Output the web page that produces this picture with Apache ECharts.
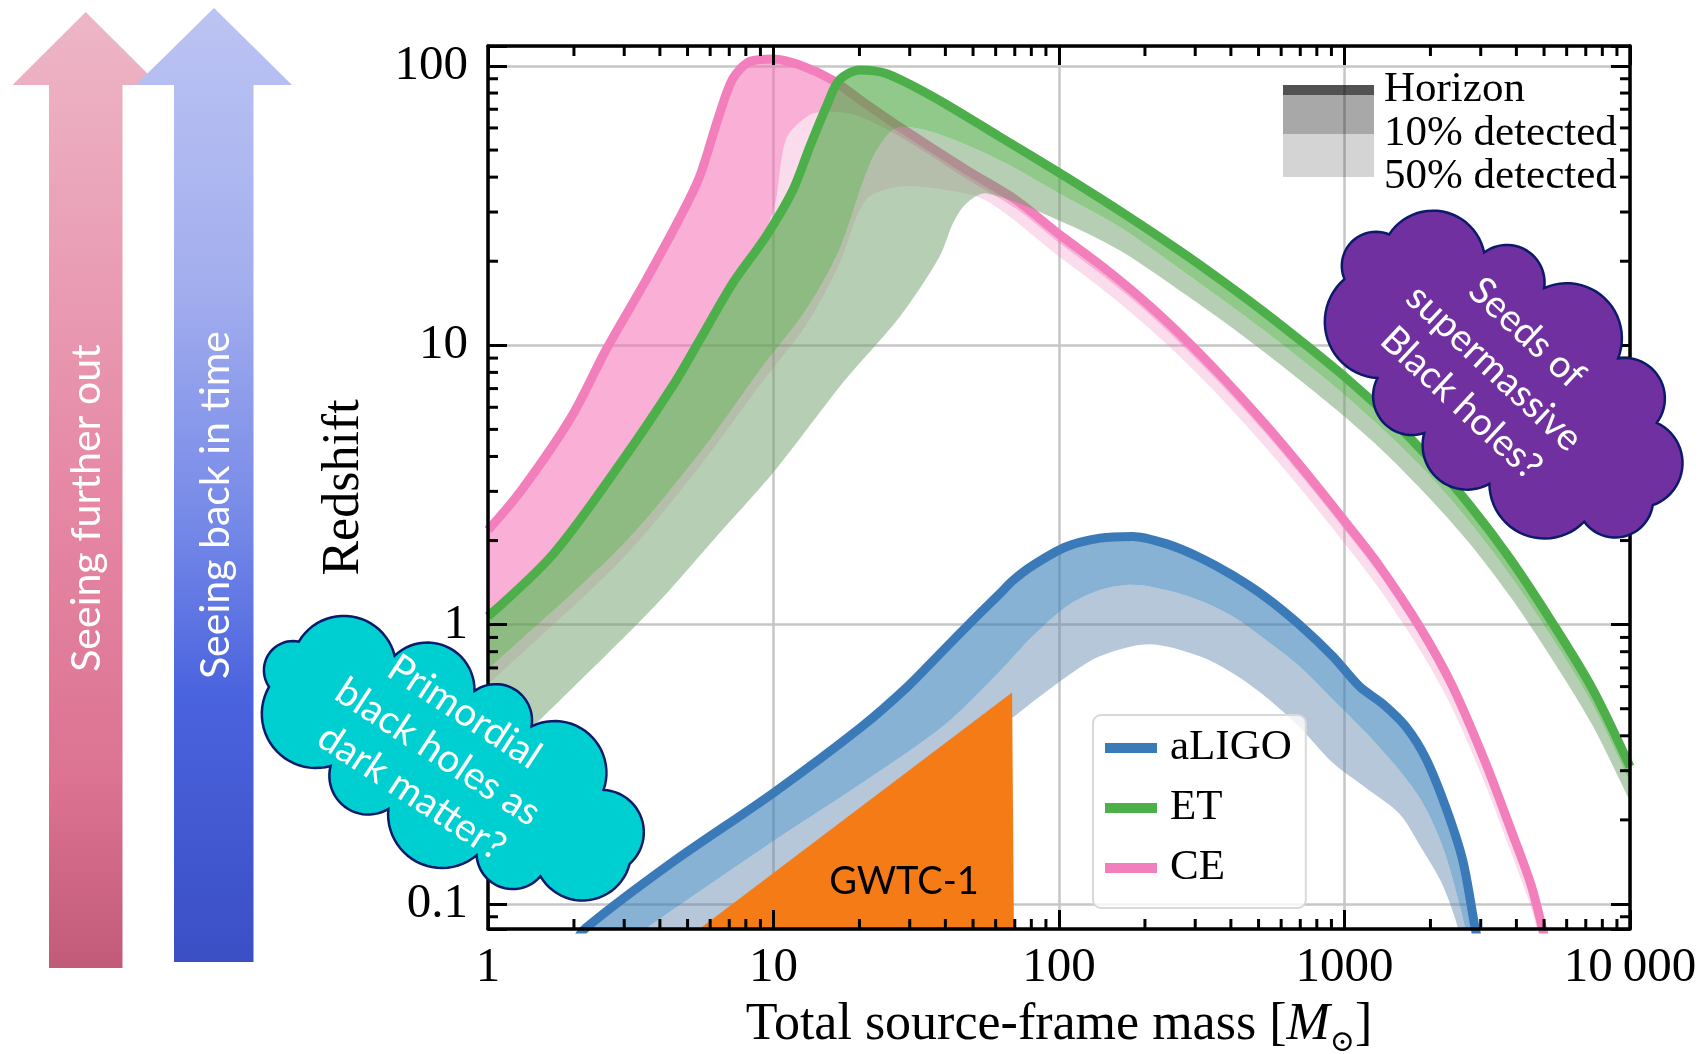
<!DOCTYPE html>
<html><head><meta charset="utf-8">
<script src="https://cdn.jsdelivr.net/npm/echarts/dist/echarts.min.js"></script>
<style>html,body{margin:0;padding:0;background:#fff}#c{width:1704px;height:1054px}</style>
</head><body><div id="c"></div>
<script>
// ---------- axis ticks ----------
const xTicks = [1, 10, 100, 1000, 10000];
const xTickLabels = ['1', '10', '100', '1000', '10\u2009000'];
const yTicks = [0.1, 1, 10, 100];
const yTickLabels = ['0.1', '1', '10', '100'];
const xMinorTicks = [2,3,4,5,6,7,8,9,20,30,40,50,60,70,80,90,200,300,400,500,600,700,800,900,2000,3000,4000,5000,6000,7000,8000,9000];
const yMinorTicks = [0.09,0.2,0.3,0.4,0.5,0.6,0.7,0.8,0.9,2,3,4,5,6,7,8,9,20,30,40,50,60,70,80,90];

// ---------- CE ----------
const ceHorizonMass = [1,1.3,1.95,2.6,3.54,4.67,5.5,6.4,7.2,8.3,10,12.3,16.1,20,27.6,47.3,70.8,100,139,194,270,376,523,728,1014,1320,1837,2393,3120,3800,4490,4960,5100];
const ceHorizonZ    = [2.18,3.0,5.5,9.7,16.8,28.3,40,65,90,104,106,101,89,76,60.6,42.5,33.1,25,19.46,14.72,10.78,7.64,5.27,3.53,2.31,1.63,0.98,0.60,0.32,0.188,0.118,0.08,0.07];
const ce10Mass = [1,1.7,2.92,4.49,5.5,7.2,8.8,9.6,10.2,11.1,13.4,16.1,20,27.6,47.3,70.8,100,139,194,270,376,523,728,1014,1320,1837,2393,3120,3800,4490,4850,5000];
const ce10Z    = [1.04,1.75,3.69,7.08,10.1,16.2,21.5,27,33,55,66.8,68.6,66,56,39.5,30.8,23.3,18.1,13.7,10.0,7.1,4.9,3.28,2.15,1.52,0.91,0.558,0.298,0.175,0.11,0.08,0.07];
const ce50Mass = [1,2.92,5.5,9,13,17,21,27.6,40,55.6,100,139,194,270,376,523,728,1014,1320,1837,2393,3120,3800,4490,4750,4900];
const ce50Z    = [0.61,1.7,3.67,7.25,11.8,19.5,33,37,36,33,20.8,16.15,12.2,8.95,6.34,4.37,2.93,1.92,1.35,0.813,0.498,0.266,0.156,0.098,0.079,0.07];

// ---------- ET ----------
const etHorizonMass = [1,1.7,2.92,4.49,5.5,7.2,9.4,11.7,13.4,15.3,17,20,24.8,36.2,62,100,163,270,376,523,728,1014,1410,1963,2735,3805,5300,7380,10000];
const etHorizonZ    = [1.07,1.8,3.8,7.3,10.4,16.7,24.5,36,51.4,71.4,89,96.8,94,77.6,55.8,41.5,30.3,21.5,16.9,13.15,10.08,7.63,5.63,3.98,2.69,1.72,1.03,0.59,0.31];
const et10Mass = [1,2.92,5.5,9,13,17,20.5,23,27,36,62,100,163,270,376,523,728,1014,1410,1963,2735,3805,5300,7380,10000];
const et10Z    = [0.69,1.9,4.1,8.2,13.4,22,38,50,60,58,46,35,26.5,18.5,14.5,11.3,8.67,6.56,4.84,3.46,2.34,1.50,0.906,0.519,0.273];
const et50Mass = [1,1.7,3.82,6,10.2,17.6,27.6,38.1,42.5,47.3,55.6,100,163,270,376,523,728,1014,1410,1963,2735,3805,5300,7380,10000];
const et50Z    = [0.30,0.51,1.16,1.95,3.6,7.4,12.6,20.7,27.3,32.2,35,28,21.9,15.5,12.2,9.47,7.26,5.49,4.05,2.87,1.96,1.26,0.76,0.437,0.233];

// ---------- aLIGO ----------
const ligoHorizonMass = [2.0,2.2,4.38,10,20.3,29.5,37.5,51,62,69,81,106,139,181,237,311,406,532,695,910,1130,1362,1644,1932,2270,2596,2850,3000];
const ligoHorizonZ    = [0.072,0.082,0.14,0.25,0.43,0.60,0.77,1.06,1.29,1.44,1.63,1.9,2.04,2.07,1.95,1.74,1.5,1.25,1.0,0.77,0.6,0.52,0.43,0.33,0.22,0.143,0.085,0.065];
const ligo10Mass = [3.2,3.54,10,20.3,40,62,81,106,139,181,237,311,406,532,695,910,1190,1560,1880,2210,2525,2700];
const ligo10Z    = [0.074,0.081,0.168,0.27,0.44,0.68,0.91,1.16,1.33,1.39,1.33,1.22,1.07,0.88,0.71,0.54,0.41,0.30,0.23,0.16,0.10,0.075];
const ligo50Mass = [5.0,5.6,27.6,62,81,106,139,207,311,406,532,695,910,1190,1560,1850,2180,2430,2550];
const ligo50Z    = [0.072,0.081,0.256,0.43,0.53,0.65,0.77,0.85,0.77,0.67,0.55,0.43,0.32,0.26,0.21,0.16,0.12,0.09,0.075];

// ---------- GWTC-1 region ----------
const gwtcMass = [5.5, 68.5, 69.5];
const gwtcZ    = [0.0814, 0.571, 0.0814];

const X_MIN = 1, X_MAX = 10000, Y_MIN = 0.08136, Y_MAX = 117.9;
const SERIF = 'Liberation Serif';
const SANS = 'Lato';

function zip(a, b) { return a.map((v, i) => [v, b[i]]); }
function labelFor(v, vals, labels) {
  for (let i = 0; i < vals.length; i++) {
    if (Math.abs(Math.log10(v) - Math.log10(vals[i])) < 1e-6) return labels[i];
  }
  return '';
}
function padEnd(p, q, len) {
  const dx = p[0] - q[0], dy = p[1] - q[1];
  const d = Math.hypot(dx, dy) || 1;
  return [p[0] + dx / d * len, p[1] + dy / d * len];
}
function clipOf(cs) { return {type: 'rect', shape: {x: cs.x, y: cs.y, width: cs.width, height: cs.height}}; }

function bandSeries(id, upM, upZ, loM, loZ, color, z) {
  return {
    type: 'custom', name: id, xAxisIndex: 0, yAxisIndex: 0, z: z, silent: true,
    data: [[upM[0], upZ[0]]],
    renderItem: function (params, api) {
      if (params.dataIndex !== 0) return;
      const U = upM.map((m, i) => api.coord([m, upZ[i]]));
      const L = loM.map((m, i) => api.coord([m, loZ[i]]));
      const pts = [padEnd(U[0], U[1], 60)].concat(U);
      pts.push(padEnd(U[U.length - 1], U[U.length - 2], 60));
      pts.push(padEnd(L[L.length - 1], L[L.length - 2], 60));
      for (let i = L.length - 1; i >= 0; i--) pts.push(L[i]);
      pts.push(padEnd(L[0], L[1], 60));
      return {
        type: 'polygon', shape: {points: pts, smooth: 0.3},
        style: {fill: color}, clipPath: clipOf(params.coordSys)
      };
    }
  };
}
function lineSeries(name, m, zv, color, z) {
  return {
    type: 'line', name: name, xAxisIndex: 0, yAxisIndex: 0, z: z, silent: true,
    data: zip(m, zv), showSymbol: false, symbol: 'none', smooth: 0.3, clip: true,
    lineStyle: {color: color, width: 9}, itemStyle: {color: color}
  };
}

const CE_COLOR = '#f27fbb', ET_COLOR = '#4caf49', LIGO_COLOR = '#3a7ab8';

const series = [
  bandSeries('ceLight', ce10Mass, ce10Z, ce50Mass, ce50Z, 'rgba(240,130,185,0.28)', 2),
  bandSeries('ceDark', ceHorizonMass, ceHorizonZ, ce10Mass, ce10Z, 'rgba(245,110,180,0.55)', 3),
  lineSeries('CE', ceHorizonMass, ceHorizonZ, CE_COLOR, 4),
  bandSeries('etLight', et10Mass, et10Z, et50Mass, et50Z, 'rgba(110,160,105,0.5)', 5),
  bandSeries('etDark', etHorizonMass, etHorizonZ, et10Mass, et10Z, 'rgba(70,165,60,0.6)', 6),
  lineSeries('ET', etHorizonMass, etHorizonZ, ET_COLOR, 7),
  bandSeries('ligoLight', ligo10Mass, ligo10Z, ligo50Mass, ligo50Z, 'rgba(90,130,170,0.45)', 8),
  bandSeries('ligoDark', ligoHorizonMass, ligoHorizonZ, ligo10Mass, ligo10Z, 'rgba(55,126,184,0.6)', 9),
  lineSeries('aLIGO', ligoHorizonMass, ligoHorizonZ, LIGO_COLOR, 10),
  {
    type: 'custom', name: 'GWTC-1', xAxisIndex: 0, yAxisIndex: 0, z: 20, silent: true,
    data: [[gwtcMass[0], gwtcZ[0]]],
    renderItem: function (params, api) {
      if (params.dataIndex !== 0) return;
      const pts = gwtcMass.map((m, i) => api.coord([m, gwtcZ[i]]));
      return {type: 'polygon', shape: {points: pts}, style: {fill: '#f47b16'}};
    }
  },
  {
    type: 'custom', name: 'minorTicks', xAxisIndex: 0, yAxisIndex: 0, z: 25, silent: true,
    data: [[1, 1]],
    renderItem: function (params, api) {
      if (params.dataIndex !== 0) return;
      const cs = params.coordSys;
      const Lx = cs.x, T = cs.y, R = cs.x + cs.width, B = cs.y + cs.height;
      const ch = [];
      const len = 10;
      xMinorTicks.forEach(v => {
        const px = api.coord([v, 1])[0];
        ch.push({type: 'line', shape: {x1: px, y1: B, x2: px, y2: B - len}, style: {stroke: '#000', lineWidth: 3}});
        ch.push({type: 'line', shape: {x1: px, y1: T, x2: px, y2: T + len}, style: {stroke: '#000', lineWidth: 3}});
      });
      yMinorTicks.forEach(v => {
        const py = api.coord([1, v])[1];
        ch.push({type: 'line', shape: {x1: Lx, y1: py, x2: Lx + len, y2: py}, style: {stroke: '#000', lineWidth: 3}});
        ch.push({type: 'line', shape: {x1: R, y1: py, x2: R - len, y2: py}, style: {stroke: '#000', lineWidth: 3}});
      });
      return {type: 'group', children: ch};
    }
  }
];

const axisLineStyle = {show: true, onZero: false, lineStyle: {color: '#000', width: 3.5}};
const majorTick = {show: true, inside: true, length: 19, lineStyle: {color: '#000', width: 3}};

const xAxes = [
  {type: 'log', logBase: 10, min: X_MIN, max: X_MAX, position: 'bottom', z: 22,
   axisLine: axisLineStyle, axisTick: majorTick,
   axisLabel: {margin: 15, fontSize: 49, fontFamily: SERIF, color: '#000',
               formatter: v => labelFor(v, xTicks, xTickLabels)},
   splitLine: {show: false},
   name: '{a|Total source-frame mass [}{m|M}{s|\u2299}{a|]}',
   nameLocation: 'middle', nameGap: 70,
   nameTextStyle: {fontFamily: SERIF, fontSize: 52, color: '#000',
     rich: {
       a: {fontFamily: SERIF, fontSize: 52, color: '#000', lineHeight: 52, verticalAlign: 'top'},
       m: {fontFamily: SERIF, fontSize: 52, fontStyle: 'italic', color: '#000', lineHeight: 52, verticalAlign: 'top'},
       s: {fontFamily: 'DejaVu Serif', fontSize: 30, color: '#000', lineHeight: 20, verticalAlign: 'top', padding: [29, 0, 0, 0]}
     }}},
  {type: 'log', logBase: 10, min: X_MIN, max: X_MAX, position: 'top', z: 22,
   axisLine: axisLineStyle, axisTick: majorTick, axisLabel: {show: false}, splitLine: {show: false}},
  {type: 'log', logBase: 10, min: X_MIN, max: X_MAX, position: 'bottom', z: 0,
   axisLine: {show: false}, axisTick: {show: false}, axisLabel: {show: false},
   splitLine: {show: true, lineStyle: {color: '#c6c6c6', width: 2.5}}}
];
const yAxes = [
  {type: 'log', logBase: 10, min: Y_MIN, max: Y_MAX, position: 'left', z: 22,
   axisLine: axisLineStyle, axisTick: majorTick,
   axisLabel: {margin: 20, fontSize: 49, fontFamily: SERIF, color: '#000',
               formatter: v => labelFor(v, yTicks, yTickLabels)},
   splitLine: {show: false},
   name: 'Redshift', nameLocation: 'middle', nameRotate: 90, nameGap: 118,
   nameTextStyle: {fontFamily: SERIF, fontSize: 52, color: '#000'}},
  {type: 'log', logBase: 10, min: Y_MIN, max: Y_MAX, position: 'right', z: 22,
   axisLine: axisLineStyle, axisTick: majorTick, axisLabel: {show: false}, splitLine: {show: false}},
  {type: 'log', logBase: 10, min: Y_MIN, max: Y_MAX, position: 'left', z: 0,
   axisLine: {show: false}, axisTick: {show: false}, axisLabel: {show: false},
   splitLine: {show: true, lineStyle: {color: '#c6c6c6', width: 2.5}}}
];

// ---------- decorations: scalloped cloud outline as polygon ----------
function cloudPoints(cx, cy, rot, a, b, n, jitter) {
  const S = 1440, ep = [], cum = [0];
  for (let i = 0; i <= S; i++) {
    const t = i / S * 2 * Math.PI;
    ep.push([a * Math.cos(t), b * Math.sin(t)]);
    if (i > 0) cum.push(cum[i - 1] + Math.hypot(ep[i][0] - ep[i - 1][0], ep[i][1] - ep[i - 1][1]));
  }
  const total = cum[S], sel = [];
  for (let k = 0; k < n; k++) {
    const target = ((k + jitter[k % jitter.length]) / n) * total;
    let j = 0;
    while (j < S && cum[j] < target) j++;
    sel.push(ep[j]);
  }
  const out = [];
  for (let k = 0; k < n; k++) {
    const p = sel[k], q = sel[(k + 1) % n];
    const mx = (p[0] + q[0]) / 2, my = (p[1] + q[1]) / 2;
    const dx = q[0] - p[0], dy = q[1] - p[1];
    const c = Math.hypot(dx, dy), h = c / 2, r = c * 0.54;
    let nx = -dy / c, ny = dx / c;
    if (nx * (-mx) + ny * (-my) < 0) { nx = -nx; ny = -ny; }
    const dist = Math.sqrt(Math.max(r * r - h * h, 0));
    const ccx = mx + nx * dist, ccy = my + ny * dist;
    const a0 = Math.atan2(p[1] - ccy, p[0] - ccx);
    const a1 = Math.atan2(q[1] - ccy, q[0] - ccx);
    let d = a1 - a0;
    while (d > Math.PI) d -= 2 * Math.PI;
    while (d <= -Math.PI) d += 2 * Math.PI;
    const steps = 24;
    for (let s = 0; s < steps; s++) {
      const ang = a0 + d * s / steps;
      out.push([ccx + r * Math.cos(ang), ccy + r * Math.sin(ang)]);
    }
  }
  const cr = Math.cos(rot), sr = Math.sin(rot);
  return out.map(p => [cx + p[0] * cr - p[1] * sr, cy + p[0] * sr + p[1] * cr]);
}
const cloudJitter = [0, 0.12, -0.08, 0.1, -0.05, 0.15, -0.1, 0.05, 0.08, -0.12, 0.02];

const graphics = [
  {type: 'polygon', z: 1, silent: true,
   shape: {points: [[85.7, 12], [159, 85], [122.5, 85], [122.5, 968], [49, 968], [49, 85], [12.5, 85]]},
   style: {fill: {type: 'linear', x: 0, y: 0, x2: 0, y2: 1, colorStops: [
     {offset: 0, color: '#edb6c6'}, {offset: 0.5, color: '#e688a5'}, {offset: 0.8, color: '#dc7393'}, {offset: 1, color: '#c25a7a'}]}}},
  {type: 'polygon', z: 2, silent: true,
   shape: {points: [[214, 8], [292, 85], [253.5, 85], [253.5, 962], [174, 962], [174, 85], [135.7, 85]]},
   style: {fill: {type: 'linear', x: 0, y: 0, x2: 0, y2: 1, colorStops: [
     {offset: 0, color: '#bcc4f3'}, {offset: 0.3, color: '#a2adee'}, {offset: 0.55, color: '#7387e7'}, {offset: 0.72, color: '#4a63de'}, {offset: 1, color: '#3b4fc5'}]}}},
  {type: 'text', z: 3, silent: true, x: 87, y: 508, rotation: Math.PI / 2,
   style: {text: 'Seeing further out', fontFamily: SANS, fontSize: 41, fill: '#ffffff', align: 'center', verticalAlign: 'middle'}},
  {type: 'text', z: 3, silent: true, x: 216, y: 505, rotation: Math.PI / 2,
   style: {text: 'Seeing back in time', fontFamily: SANS, fontSize: 41, fill: '#ffffff', align: 'center', verticalAlign: 'middle'}},
  // top-right style legend
  {type: 'rect', z: 30, silent: true, shape: {x: 1283, y: 85, width: 91, height: 10}, style: {fill: 'rgba(0,0,0,0.68)'}},
  {type: 'rect', z: 30, silent: true, shape: {x: 1283, y: 95, width: 91, height: 39}, style: {fill: 'rgba(0,0,0,0.34)'}},
  {type: 'rect', z: 30, silent: true, shape: {x: 1283, y: 134, width: 91, height: 43}, style: {fill: 'rgba(0,0,0,0.17)'}},
  {type: 'text', z: 30, silent: true, x: 1384, y: 90, style: {text: 'Horizon', fontFamily: SERIF, fontSize: 43, fill: '#000', align: 'left', verticalAlign: 'middle'}},
  {type: 'text', z: 30, silent: true, x: 1384, y: 134, style: {text: '10% detected', fontFamily: SERIF, fontSize: 43, fill: '#000', align: 'left', verticalAlign: 'middle'}},
  {type: 'text', z: 30, silent: true, x: 1384, y: 177, style: {text: '50% detected', fontFamily: SERIF, fontSize: 43, fill: '#000', align: 'left', verticalAlign: 'middle'}},
  // GWTC-1 label
  {type: 'text', z: 40, silent: true, x: 904, y: 882, style: {text: 'GWTC-1', fontFamily: SANS, fontSize: 38, fill: '#000', align: 'center', verticalAlign: 'middle'}},
  // cyan cloud
  {type: 'polygon', z: 100, silent: true,
   shape: {points: cloudPoints(450, 761, 0.52, 207, 73, 11, cloudJitter)},
   style: {fill: '#00cfd1', stroke: '#0c1a6b', lineWidth: 2.5}},
  {type: 'text', z: 101, silent: true, x: 438, y: 752, rotation: -0.58,
   style: {text: 'Primordial\nblack holes as\ndark matter?', fontFamily: SANS, fontSize: 39, lineHeight: 48, fill: '#ffffff', align: 'center', verticalAlign: 'middle'}},
  // purple cloud
  {type: 'polygon', z: 100, silent: true,
   shape: {points: cloudPoints(1505, 378, 0.70, 195, 95, 11, cloudJitter.slice().reverse())},
   style: {fill: '#7030a0', stroke: '#0c1a6b', lineWidth: 2.5}},
  {type: 'text', z: 101, silent: true, x: 1494, y: 368, rotation: -0.75,
   style: {text: 'Seeds of\nsupermassive\nBlack holes?', fontFamily: SANS, fontSize: 38, lineHeight: 48, fill: '#ffffff', align: 'center', verticalAlign: 'middle'}}
];

const chart = echarts.init(document.getElementById('c'), null, {renderer: 'canvas', width: 1704, height: 1054});
chart.setOption({
  animation: false,
  backgroundColor: '#ffffff',
  grid: {left: 488, top: 46, width: 1142, height: 883, containLabel: false, outerBoundsMode: 'none'},
  xAxis: xAxes,
  yAxis: yAxes,
  legend: {
    orient: 'vertical', left: 1093, top: 715, selectedMode: false, z: 30,
    data: [{name: 'aLIGO'}, {name: 'ET'}, {name: 'CE'}],
    icon: 'rect', itemWidth: 52, itemHeight: 10, itemGap: 10,
    padding: [8, 14, 15, 12],
    backgroundColor: 'rgba(255,255,255,0.8)', borderColor: '#d9d9d9', borderWidth: 2, borderRadius: 8,
    textStyle: {fontFamily: SERIF, fontSize: 43, color: '#000', lineHeight: 50, padding: [0, 0, 0, 8]}
  },
  series: series,
  graphic: {elements: graphics}
});
</script>
</body></html>
